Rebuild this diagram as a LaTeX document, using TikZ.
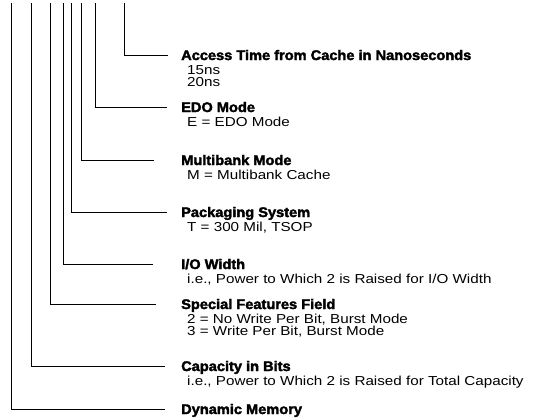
\documentclass[tikz,border=0pt]{standalone}
\usepackage{fontspec}
\newfontfamily\headfont[FakeStretch=1.05,FakeBold=2.4]{Liberation Sans Bold}
\newfontfamily\subfont[FakeStretch=1.17]{Liberation Sans}
\tikzset{
  lead/.style={line width=0.9pt, black},
  head/.style={anchor=base west, inner sep=0pt, font=\headfont\fontsize{13.9}{13.9}\selectfont},
  sub/.style={anchor=base west, inner sep=0pt, font=\subfont\fontsize{13}{13}\selectfont},
}
\begin{document}
\begin{tikzpicture}[x=1pt,y=-1pt]
\useasboundingbox (0,0) rectangle (533,420);
% tops of leaders
\coordinate (t1) at (124,3);
\coordinate (t2) at (95,3);
\coordinate (t3) at (81,3);
\coordinate (t4) at (71,3);
\coordinate (t5) at (63,3);
\coordinate (t6) at (50,3);
\coordinate (t7) at (31,3);
\coordinate (t8) at (11,3);
% ends of leaders
\coordinate (e1) at (168,55);
\coordinate (e2) at (167,107);
\coordinate (e3) at (154,160);
\coordinate (e4) at (167,212);
\coordinate (e5) at (153,264);
\coordinate (e6) at (156,304);
\coordinate (e7) at (165,366);
\coordinate (e8) at (165,409);
% texts
\node[head] (h1) at (181,60) {Access Time from Cache in Nanoseconds};
\node[sub]  (s1a) at (187,74.5) {15ns};
\node[sub]  (s1b) at (187,86.5) {20ns};
\node[head] (h2) at (181,112) {EDO Mode};
\node[sub]  (s2) at (187,126.5) {E = EDO Mode};
\node[head] (h3) at (181,165) {Multibank Mode};
\node[sub]  (s3) at (187,179.5) {M = Multibank Cache};
\node[head] (h4) at (181,217) {Packaging System};
\node[sub]  (s4) at (187,231.5) {T = 300 Mil, TSOP};
\node[head] (h5) at (181,269) {I/O Width};
\node[sub]  (s5) at (187,283.5) {i.e., Power to Which 2 is Raised for I/O Width};
\node[head] (h6) at (181,309) {Special Features Field};
\node[sub]  (s6a) at (187,323.5) {2 = No Write Per Bit, Burst Mode};
\node[sub]  (s6b) at (187,335.5) {3 = Write Per Bit, Burst Mode};
\node[head] (h7) at (181,371) {Capacity in Bits};
\node[sub]  (s7) at (187,385.5) {i.e., Power to Which 2 is Raised for Total Capacity};
\node[head] (h8) at (181,414) {Dynamic Memory};
% leaders
\foreach \i in {1,...,8}{\draw[lead] (t\i) |- (e\i);}
\end{tikzpicture}
\end{document}
